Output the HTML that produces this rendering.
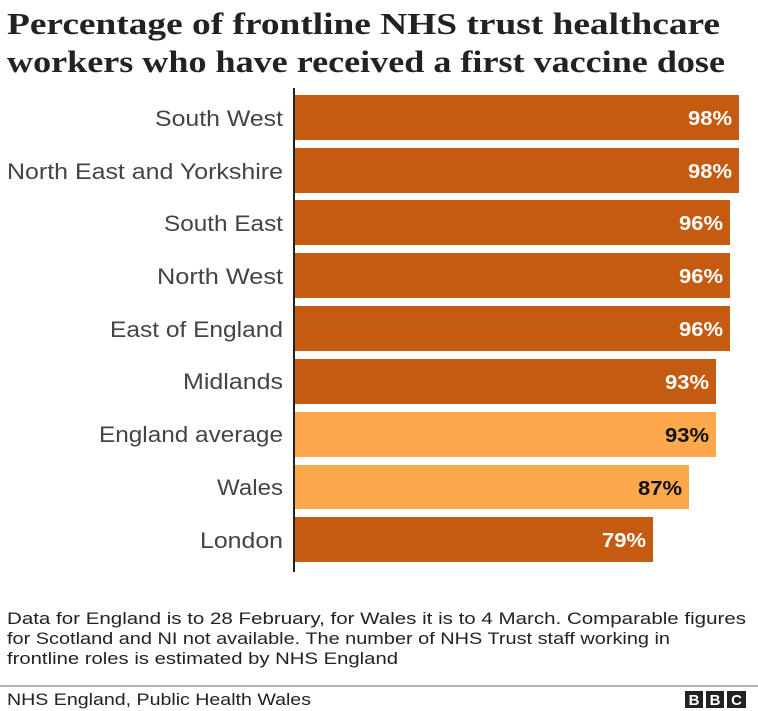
<!DOCTYPE html>
<html><head><meta charset="utf-8"><style>
body{margin:0;background:#fff;width:758px;height:711px;overflow:hidden}
svg{display:block}
</style></head><body>
<svg width="758" height="711" xmlns="http://www.w3.org/2000/svg" font-family="Liberation Sans, sans-serif">
<g font-family="Liberation Serif, serif" font-weight="bold" font-size="31" fill="#222" lengthAdjust="spacingAndGlyphs">
<text x="7" y="34" textLength="713" lengthAdjust="spacingAndGlyphs">Percentage of frontline NHS trust healthcare</text>
<text x="7" y="72" textLength="718" lengthAdjust="spacingAndGlyphs">workers who have received a first vaccine dose</text>
</g>
<g font-size="22" fill="#444" text-anchor="end">
<text x="283" y="126" textLength="128" lengthAdjust="spacingAndGlyphs">South West</text>
<text x="283" y="179" textLength="276" lengthAdjust="spacingAndGlyphs">North East and Yorkshire</text>
<text x="283" y="231" textLength="119" lengthAdjust="spacingAndGlyphs">South East</text>
<text x="283" y="284" textLength="126" lengthAdjust="spacingAndGlyphs">North West</text>
<text x="283" y="337" textLength="173" lengthAdjust="spacingAndGlyphs">East of England</text>
<text x="283" y="389" textLength="100" lengthAdjust="spacingAndGlyphs">Midlands</text>
<text x="283" y="442" textLength="184" lengthAdjust="spacingAndGlyphs">England average</text>
<text x="283" y="495" textLength="66" lengthAdjust="spacingAndGlyphs">Wales</text>
<text x="283" y="548" textLength="83" lengthAdjust="spacingAndGlyphs">London</text>
</g>
<g>
<rect x="294" y="95" width="445" height="45" fill="#c55a11"/>
<rect x="294" y="148" width="445" height="45" fill="#c55a11"/>
<rect x="294" y="200" width="436" height="45" fill="#c55a11"/>
<rect x="294" y="253" width="436" height="45" fill="#c55a11"/>
<rect x="294" y="306" width="436" height="45" fill="#c55a11"/>
<rect x="294" y="359" width="422" height="45" fill="#c55a11"/>
<rect x="294" y="412" width="422" height="45" fill="#fba94c"/>
<rect x="294" y="465" width="395" height="44" fill="#fba94c"/>
<rect x="294" y="517" width="359" height="45" fill="#c55a11"/>
</g>
<line x1="294" y1="88" x2="294" y2="572" stroke="#222" stroke-width="2"/>
<g font-size="20" font-weight="bold" text-anchor="end">
<text x="732" y="125" fill="#fff" textLength="44" lengthAdjust="spacingAndGlyphs">98%</text>
<text x="732" y="178" fill="#fff" textLength="44" lengthAdjust="spacingAndGlyphs">98%</text>
<text x="723" y="230" fill="#fff" textLength="44" lengthAdjust="spacingAndGlyphs">96%</text>
<text x="723" y="283" fill="#fff" textLength="44" lengthAdjust="spacingAndGlyphs">96%</text>
<text x="723" y="336" fill="#fff" textLength="44" lengthAdjust="spacingAndGlyphs">96%</text>
<text x="709" y="389" fill="#fff" textLength="44" lengthAdjust="spacingAndGlyphs">93%</text>
<text x="709" y="442" fill="#111" textLength="44" lengthAdjust="spacingAndGlyphs">93%</text>
<text x="682" y="495" fill="#111" textLength="44" lengthAdjust="spacingAndGlyphs">87%</text>
<text x="646" y="547" fill="#fff" textLength="44" lengthAdjust="spacingAndGlyphs">79%</text>
</g>
<g font-size="17" fill="#222">
<text x="7" y="624" textLength="739" lengthAdjust="spacingAndGlyphs">Data for England is to 28 February, for Wales it is to 4 March. Comparable figures</text>
<text x="7" y="644" textLength="663" lengthAdjust="spacingAndGlyphs">for Scotland and NI not available. The number of NHS Trust staff working in</text>
<text x="7" y="664" textLength="391" lengthAdjust="spacingAndGlyphs">frontline roles is estimated by NHS England</text>
</g>
<line x1="0" y1="686" x2="758" y2="686" stroke="#666" stroke-width="1"/>
<text x="7" y="705" font-size="17" fill="#222" textLength="304" lengthAdjust="spacingAndGlyphs">NHS England, Public Health Wales</text>
<g>
<rect x="685" y="691" width="18" height="17" fill="#222"/>
<rect x="706" y="691" width="18" height="17" fill="#222"/>
<rect x="727" y="691" width="19" height="17" fill="#222"/>
<g fill="#fff" font-weight="bold" font-size="15" text-anchor="middle">
<text x="694" y="705">B</text><text x="715" y="705">B</text><text x="736.5" y="705">C</text>
</g>
</g>
</svg>
</body></html>
